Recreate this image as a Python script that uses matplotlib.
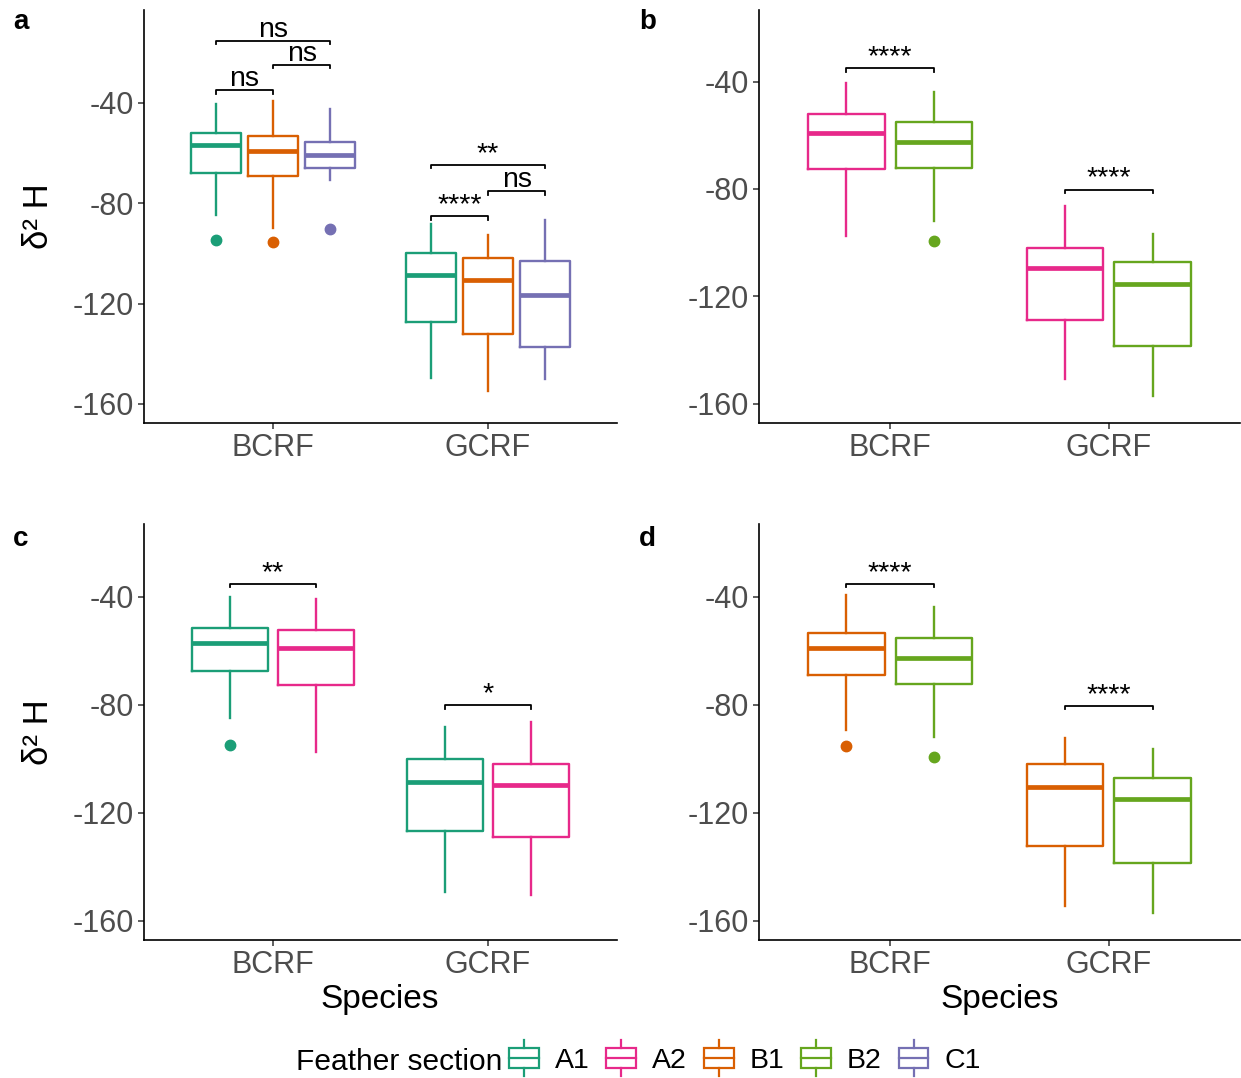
import matplotlib
matplotlib.use("Agg")
import matplotlib.pyplot as plt
from matplotlib.patches import Rectangle, Patch
from matplotlib.lines import Line2D
from matplotlib.legend_handler import HandlerBase

plt.rcParams['font.family'] = ['Liberation Sans', 'DejaVu Sans']
plt.rcParams['axes.unicode_minus'] = False

species = ["BCRF", "GCRF"]
sections = ["A1", "A2", "B1", "B2", "C1"]
colors = ["#1B9E77", "#E7298A", "#D95F02", "#66A61E", "#7570B3"]
yticks = [-40, -80, -120, -160]

# box stats per species: (whislo, q1, med, q3, whishi), one row per section
a_groups = ["A1", "B1", "C1"]
a_bcrf = [(-84.8, -67.8, -57.0, -52.0, -40.3),
          (-89.7, -69.1, -59.1, -53.3, -39.2),
          (-70.8, -65.8, -60.8, -55.5, -42.5)]
a_gcrf = [(-149.8, -127.2, -108.7, -100.0, -88.1),
          (-154.7, -132.3, -110.8, -102.0, -92.7),
          (-150.2, -137.2, -116.4, -103.1, -86.7)]
a_out = [[[-94.8], [-95.6], [-90.2]], [[], [], []]]
# (species, group1, group2, y, label)
a_sig = [(0, 0, 1, -35.0, "ns"), (0, 1, 2, -25.0, "ns"), (0, 0, 2, -15.3, "ns"),
         (1, 0, 1, -85.2, "****"), (1, 1, 2, -75.3, "ns"), (1, 0, 2, -64.8, "**")]

b_groups = ["A2", "B2"]
b_bcrf = [(-97.4, -72.5, -59.2, -52.2, -40.6),
          (-91.9, -72.3, -62.6, -55.1, -44.0)]
b_gcrf = [(-150.7, -129.0, -109.5, -102.0, -86.5),
          (-157.2, -138.6, -115.3, -107.2, -96.7)]
b_out = [[[], [-99.4]], [[], []]]
b_sig = [(0, 0, 1, -35.0, "****"), (1, 0, 1, -80.3, "****")]

c_groups = ["A1", "A2"]
c_bcrf = [(-84.8, -67.7, -57.0, -51.7, -40.0),
          (-97.6, -72.6, -59.2, -52.5, -40.8)]
c_gcrf = [(-149.4, -126.9, -108.6, -100.0, -88.2),
          (-150.5, -129.0, -109.7, -101.9, -86.4)]
c_out = [[[-94.9], []], [[], []]]
c_sig = [(0, 0, 1, -35.3, "**"), (1, 0, 1, -80.2, "*")]

d_groups = ["B1", "B2"]
d_bcrf = [(-89.3, -69.1, -59.0, -53.5, -39.3),
          (-92.0, -72.3, -62.6, -55.2, -44.0)]
d_gcrf = [(-154.5, -132.3, -110.7, -101.9, -92.5),
          (-157.2, -138.7, -115.1, -107.3, -96.6)]
d_out = [[[-95.5], [-99.5]], [[], []]]
d_sig = [(0, 0, 1, -35.3, "****"), (1, 0, 1, -80.5, "****")]

col = dict(zip(sections, colors))
W, H = 1241, 1078


def draw_panel(ax, groups, stats, outliers, sig, ylim):
    n = len(groups)
    step = 0.8 / n
    w = 0.7 / n

    def xpos(si, gi):
        return si + 1 + (gi - (n - 1) / 2) * step

    for si in range(len(species)):
        for gi, g in enumerate(groups):
            lo, q1, med, q3, hi = stats[si][gi]
            st = dict(whislo=lo, q1=q1, med=med, q3=q3, whishi=hi,
                      fliers=outliers[si][gi])
            c = col[g]
            ax.bxp([st], positions=[xpos(si, gi)], widths=[w], showcaps=False,
                   boxprops=dict(color=c, lw=1.7),
                   whiskerprops=dict(color=c, lw=1.7),
                   medianprops=dict(color=c, lw=3.4, solid_capstyle='butt'),
                   flierprops=dict(marker='o', mfc=c, mec=c, ms=7.5))

    tip = 1.3
    for si, g1, g2, y, lab in sig:
        x1, x2 = xpos(si, g1), xpos(si, g2)
        ax.plot([x1, x1, x2, x2], [y - tip, y, y, y - tip], color='black', lw=1.3)
        ax.annotate(lab, xy=((x1 + x2) / 2, y), xytext=(0, 3), textcoords='offset points',
                    ha='center', va='baseline', fontsize=20.5)

    ax.set_xlim(0.4, 2.6)
    ax.set_ylim(*ylim)
    ax.set_xticks([1, 2])
    ax.set_xticklabels(species, fontsize=22, color='#4D4D4D')
    ax.set_yticks(yticks)
    ax.set_yticklabels([str(v) for v in yticks], fontsize=22, color='#4D4D4D')
    for s in ['top', 'right']:
        ax.spines[s].set_visible(False)
    for s in ['left', 'bottom']:
        ax.spines[s].set_linewidth(1.2)
    ax.tick_params(length=4, width=1.1, color='#333333', pad=3)


class BoxKey(HandlerBase):
    def create_artists(self, legend, orig_handle, xdescent, ydescent,
                       width, height, fontsize, trans):
        c = orig_handle.get_edgecolor()
        x0, y0 = -xdescent, -ydescent
        xm = x0 + width / 2
        arts = [Rectangle((x0, y0), width, height, fill=False, ec=c, lw=1.6),
                Line2D([x0, x0 + width], [y0 + height / 2] * 2, color=c, lw=1.6),
                Line2D([xm, xm], [y0 + height, y0 + height * 1.4], color=c, lw=1.6),
                Line2D([xm, xm], [y0 - height * 0.4, y0], color=c, lw=1.6)]
        for a in arts:
            a.set_transform(trans)
        return arts


fig = plt.figure(figsize=(W / 100, H / 100), dpi=100)


def box(l, r, t, b):
    return [l / W, 1 - b / H, (r - l) / W, (b - t) / H]


ax_a = fig.add_axes(box(144, 617, 10, 423))
ax_b = fig.add_axes(box(759, 1240, 10, 423))
ax_c = fig.add_axes(box(144, 617, 524, 940))
ax_d = fig.add_axes(box(759, 1240, 524, 940))

draw_panel(ax_a, a_groups, [a_bcrf, a_gcrf], a_out, a_sig, (-167.6, -3.0))
draw_panel(ax_b, b_groups, [b_bcrf, b_gcrf], b_out, b_sig, (-167.2, -13.3))
draw_panel(ax_c, c_groups, [c_bcrf, c_gcrf], c_out, c_sig, (-167.2, -13.1))
draw_panel(ax_d, d_groups, [d_bcrf, d_gcrf], d_out, d_sig, (-167.2, -13.1))

for lab, x, y in [("a", 13, 29), ("b", 639, 29), ("c", 13, 546), ("d", 639, 546)]:
    fig.text(x / W, 1 - y / H, lab, fontsize=20, fontweight='bold', va='baseline')

for y in [216, 732]:
    fig.text(38 / W, 1 - y / H, "δ² H", rotation=90, ha='center', va='center', fontsize=25)
for x in [380, 1000]:
    fig.text(x / W, 1 - 1008 / H, "Species", ha='center', va='baseline', fontsize=24)

fig.text(502 / W, 1 - 1070 / H, "Feather section", ha='right', va='baseline', fontsize=21.5)
handles = [Patch(edgecolor=c, facecolor='none', label=s) for s, c in zip(sections, colors)]
fig.legend(handles=handles, loc='center left', bbox_to_anchor=(509 / W, 1 - 1061 / H),
           ncol=5, frameon=False, fontsize=20.5, handler_map={Patch: BoxKey()},
           handlelength=1.05, handleheight=0.7, handletextpad=0.55, columnspacing=0.6,
           borderpad=0, borderaxespad=0)

fig.savefig("out.png", dpi=100)
